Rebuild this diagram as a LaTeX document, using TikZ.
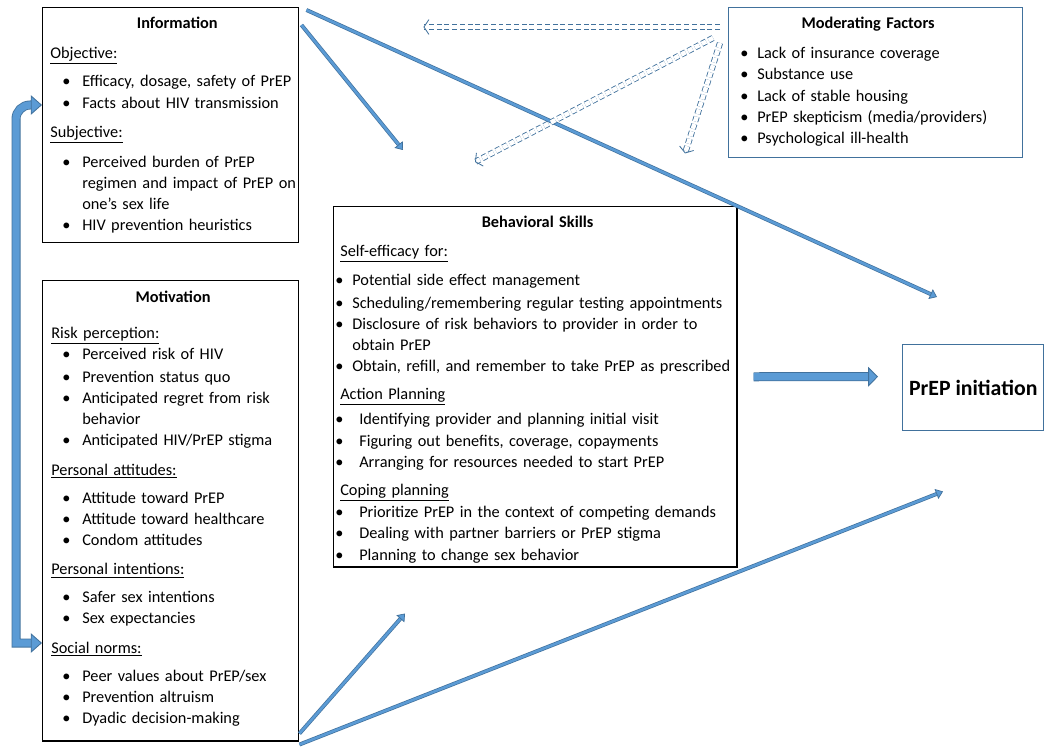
\documentclass[tikz,border=0pt]{standalone}
\usepackage{fontspec}
\setmainfont{Carlito}
\usetikzlibrary{arrows.meta,calc}

\definecolor{arrow fill}{HTML}{5B9BD5}
\definecolor{arrow edge}{HTML}{41719C}

\newdimen\pix \pix=0.7113pt
\newcommand\subat{8}
\newcommand\bulat{20}
\newcommand\txtat{40}
\newcommand\boxtitle[2][0]{{\centering\hspace*{#1\pix}\textbf{#2}\par}}
\newcommand\boxsub[2][9]{\vspace{#1\pix}\noindent\hspace*{\subat\pix}\underline{#2}\par}
\newcommand\boxitem[2][0]{\vspace{#1\pix}\noindent\hangindent=\txtat\pix\hangafter=1%
  \makebox[\txtat\pix][l]{\hspace*{\bulat\pix}\textbullet}#2\par}

\tikzset{
  panel/.style={draw=black, line width=1pt, inner sep=0pt, anchor=north west},
  blue panel/.style={panel, draw=arrow edge},
  panel text/.style={anchor=north west, inner sep=0pt,
    font=\fontsize{11.6}{15}\selectfont\raggedright},
  thin arrow/.style={draw=arrow edge, double=arrow fill, line width=0.5pt,
    double distance=1.8pt,
    -{Triangle[length=5pt, width=7.5pt, fill=arrow fill, line width=0.5pt]}},
  dashed arrow/.style={draw=arrow edge, double=white, line width=0.6pt,
    double distance=3.2pt, dash pattern=on 3.5pt off 2pt,
    -{Straight Barb[length=3.5pt, width=10.5pt, line width=0.6pt]}},
  block arrow/.style={draw=arrow edge, double=arrow fill, line width=0.6pt,
    double distance=5.2pt,
    -{Triangle[length=7pt, width=14pt, fill=arrow fill, line width=0.6pt]}},
  bent arrow/.style={block arrow,
    {Triangle[length=8pt, width=14pt, fill=arrow fill, line width=0.6pt]}-{Triangle[length=8pt, width=14pt, fill=arrow fill, line width=0.6pt]}}
}

\begin{document}
\begin{tikzpicture}[x=0.025cm, y=-0.025cm]
  \useasboundingbox (0,0) rectangle (1050,754);

  \node (info) [panel, minimum width=6.4cm, minimum height=5.875cm] at (42,7) {};
  \node (motiv) [panel, minimum width=6.4cm, minimum height=11.5cm] at (42,280) {};
  \node (skills) [panel, minimum width=10.075cm, minimum height=9cm] at (333,206) {};
  \node (moder) [blue panel, minimum width=7.35cm, minimum height=3.75cm] at (728,7) {};
  \node (init) [blue panel, minimum width=3.525cm, minimum height=2.15cm,
    font=\fontsize{15.5}{18}\selectfont\bfseries] at (902,344) {PrEP initiation};

  \node (info text) [panel text, text width=6.4cm] at ($(info.north west)+(0,10)$) {
    \boxtitle[14]{Information}
    \boxsub{Objective:}
    \boxitem[7]{Efficacy, dosage, safety of PrEP}
    \boxitem{Facts about HIV transmission}
    \boxsub[8]{Subjective:}
    \boxitem[9]{Perceived burden of PrEP\newline regimen and impact of PrEP on\newline one’s sex life}
    \boxitem{HIV prevention heuristics}
  };

  \node (motiv text) [panel text, text width=6.4cm] at ($(motiv.north west)+(0,11)$) {
    \renewcommand\subat{9}
    \boxtitle{Motivation}
    \boxsub[15]{Risk perception:}
    \boxitem{Perceived risk of HIV}
    \boxitem[1]{Prevention status quo}
    \boxitem{Anticipated regret from risk\newline behavior}
    \boxitem{Anticipated HIV/PrEP stigma}
    \boxsub[9]{Personal attitudes:}
    \boxitem[7]{Attitude toward PrEP}
    \boxitem{Attitude toward healthcare}
    \boxitem{Condom attitudes}
    \boxsub[8]{Personal intentions:}
    \boxitem[7]{Safer sex intentions}
    \boxitem{Sex expectancies}
    \boxsub[8]{Social norms:}
    \boxitem[7]{Peer values about PrEP/sex}
    \boxitem{Prevention altruism}
    \boxitem{Dyadic decision-making}
  };

  \node (skills text) [panel text, text width=10.075cm] at ($(skills.north west)+(0,10)$) {
    \renewcommand\subat{7}\renewcommand\bulat{2}\renewcommand\txtat{19}
    \boxtitle{Behavioral Skills}
    \boxsub[8]{Self-efficacy for:}
    \boxitem[8]{Potential side effect management}
    \boxitem[1]{Scheduling/remembering regular testing appointments}
    \boxitem{Disclosure of risk behaviors to provider in order to\newline obtain PrEP}
    \boxitem{Obtain, refill, and remember to take PrEP as prescribed}
    \boxsub[7]{Action Planning}
    \renewcommand\txtat{26}
    \boxitem[4]{Identifying provider and planning initial visit}
    \boxitem[1]{Figuring out benefits, coverage, copayments}
    \boxitem{Arranging for resources needed to start PrEP}
    \boxsub[7]{Coping planning}
    \boxitem[1]{Prioritize PrEP in the context of competing demands}
    \boxitem{Dealing with partner barriers or PrEP stigma}
    \boxitem{Planning to change sex behavior}
  };

  \node (moder text) [panel text, text width=7.35cm] at ($(moder.north west)+(0,10)$) {
    \renewcommand\bulat{12}\renewcommand\txtat{29}
    \boxtitle[-20]{Moderating Factors}
    \boxitem[9]{Lack of insurance coverage}
    \boxitem{Substance use}
    \boxitem{Lack of stable housing}
    \boxitem{PrEP skepticism (media/providers)}
    \boxitem{Psychological ill-health}
  };

  \coordinate (obj in) at ($(info.north west)+(0,98)$);
  \coordinate (norms in) at ($(motiv.north west)+(0,363)$);
  \draw [bent arrow]
    (obj in)
    [rounded corners=10pt] -| ($(norms in)+(-26,-30)$)
    [sharp corners] |- (norms in)
  ;

  \draw [thin arrow]
    ($(info.north east)+(2,18)$)
    -- ($(skills.north west)+(70,-56)$)
  ;
  \draw [thin arrow]
    ($(info.north east)+(7,3)$)
    -- ($(init.north west)+(35,-47)$)
  ;
  \draw [thin arrow]
    ($(motiv.south east)+(0,-8)$)
    -- ($(skills.south west)+(72,46)$)
  ;
  \draw [thin arrow]
    ($(motiv.south east)+(0,3)$)
    -- ($(init.south west)+(41,60)$)
  ;

  \draw [dashed arrow]
    ($(moder.north west)+(-8,20)$)
    -- ($(info.north east)+(124,20)$)
  ;
  \draw [dashed arrow]
    ($(moder.north west)+(-15,31)$)
    -- ($(skills.north west)+(142,-44)$)
  ;
  \draw [dashed arrow]
    ($(moder.north west)+(-8,36)$)
    -- ($(moder.south west)+(-43,-5)$)
  ;

  \draw [block arrow]
    ($(skills.east)+(16,-10)$)
    -- ($(init.west)+(-24,-11)$)
  ;
\end{tikzpicture}
\end{document}
